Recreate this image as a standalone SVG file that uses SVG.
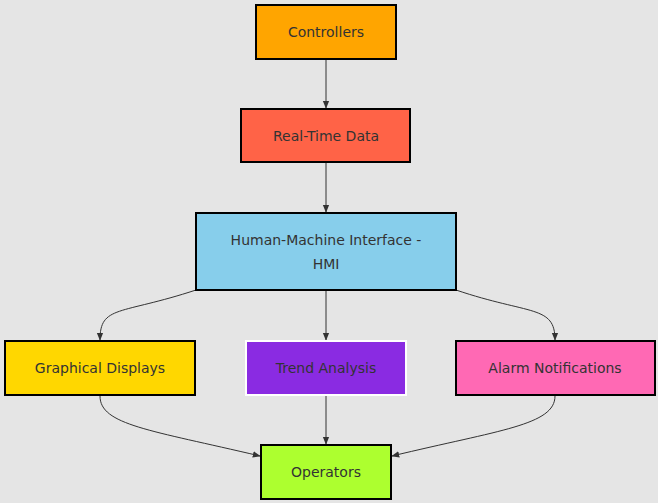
<svg xmlns="http://www.w3.org/2000/svg" width="658" height="503" viewBox="0 0 658 503">
<style>
.n{stroke:#000;stroke-width:2}
.t{font-family:"DejaVu Sans",sans-serif;font-size:14px;fill:#333;text-anchor:middle;dominant-baseline:central}
.e{fill:none;stroke:#333;stroke-width:1}
</style>
<defs><marker id="a" viewBox="0 0 10 10" refX="9" refY="5" markerWidth="8" markerHeight="8" orient="auto"><path d="M0,1 L10,5 L0,9 z" fill="#333"/></marker></defs>
<rect width="658" height="503" fill="#e5e5e5"/>
<g id="connectors">
<path class="e" d="M326,60 V108" marker-end="url(#a)"/>
<path class="e" d="M326,163 V212" marker-end="url(#a)"/>
<path class="e" d="M326,291 V340" marker-end="url(#a)"/>
<path class="e" d="M196,290 C120,315 100,305 100,340" marker-end="url(#a)"/>
<path class="e" d="M456,290 C530,315 555,305 555,340" marker-end="url(#a)"/>
<path class="e" d="M326,396 V444" marker-end="url(#a)"/>
<path class="e" d="M100,396 C100,425 150,430 260,456" marker-end="url(#a)"/>
<path class="e" d="M555,396 C555,425 500,430 392,456" marker-end="url(#a)"/>
</g>
<g id="controllers"><rect class="n" x="256" y="5" width="140" height="54" fill="#ffa500"/><text class="t" x="326" y="32">Controllers</text></g>
<g id="realtime"><rect class="n" x="241" y="109" width="169" height="53" fill="#ff6347"/><text class="t" x="326" y="136">Real-Time Data</text></g>
<g id="hmi"><rect class="n" x="196" y="213" width="260" height="77" fill="#87ceeb"/><text class="t" x="326" y="240">Human-Machine Interface -</text><text class="t" x="326" y="264">HMI</text></g>
<g id="graphical"><rect class="n" x="5" y="341" width="190" height="54" fill="#ffd700"/><text class="t" x="100" y="368">Graphical Displays</text></g>
<g id="trend"><rect x="246" y="341" width="160" height="54" fill="#8a2be2" stroke="#fff" stroke-width="2"/><text class="t" x="326" y="368">Trend Analysis</text></g>
<g id="alarm"><rect class="n" x="456" y="341" width="199" height="54" fill="#ff69b4"/><text class="t" x="555" y="368">Alarm Notifications</text></g>
<g id="operators"><rect class="n" x="261" y="445" width="130" height="54" fill="#adff2f"/><text class="t" x="326" y="472">Operators</text></g>
</svg>
